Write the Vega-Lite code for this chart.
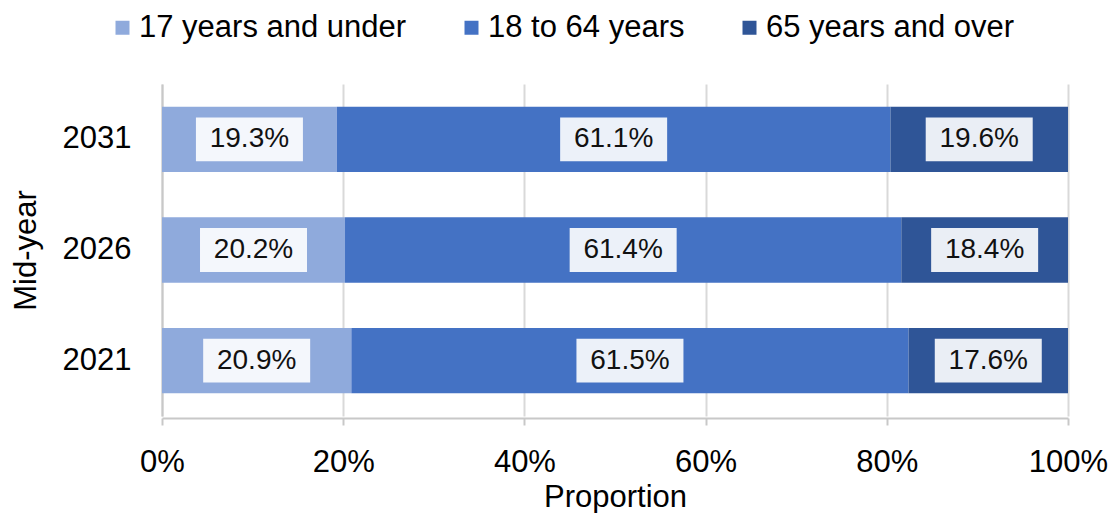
{
  "$schema": "https://vega.github.io/schema/vega-lite/v6.json",
  "autosize": {"type": "none"},
  "padding": {"left": 162, "top": 84, "right": 43, "bottom": 97},
  "width": 906,
  "height": 332,
  "background": "white",
  "config": {
    "view": {"stroke": null},
    "font": "Liberation Sans",
    "axis": {
      "labelFont": "Liberation Sans",
      "titleFont": "Liberation Sans",
      "labelColor": "#000000",
      "titleColor": "#000000",
      "titleFontWeight": "normal",
      "labelFontSize": 31,
      "titleFontSize": 31
    },
    "legend": {
      "labelFont": "Liberation Sans",
      "labelFontSize": 31,
      "labelColor": "#000000"
    }
  },
  "data": {
    "values": [
      {"year": "2031", "group": "17 years and under", "share": 0.193},
      {"year": "2031", "group": "18 to 64 years", "share": 0.611},
      {"year": "2031", "group": "65 years and over", "share": 0.196},
      {"year": "2026", "group": "17 years and under", "share": 0.202},
      {"year": "2026", "group": "18 to 64 years", "share": 0.614},
      {"year": "2026", "group": "65 years and over", "share": 0.184},
      {"year": "2021", "group": "17 years and under", "share": 0.209},
      {"year": "2021", "group": "18 to 64 years", "share": 0.615},
      {"year": "2021", "group": "65 years and over", "share": 0.176}
    ]
  },
  "encoding": {
    "y": {
      "field": "year",
      "type": "nominal",
      "sort": "descending",
      "scale": {"paddingInner": 0.41, "paddingOuter": 0.205},
      "axis": {
        "title": "Mid-year",
        "ticks": false,
        "tickSize": 0,
        "labelPadding": 31,
        "titlePadding": 20,
        "domainColor": "#c8c8c8",
        "domainWidth": 2,
        "grid": false
      }
    },
    "order": {"field": "group", "type": "nominal", "sort": "ascending"}
  },
  "layer": [
    {
      "mark": {"type": "bar"},
      "encoding": {
        "x": {
          "field": "share",
          "type": "quantitative",
          "stack": "zero",
          "scale": {"domain": [0, 1]},
          "axis": {
            "title": "Proportion",
            "format": "%",
            "values": [0, 0.2, 0.4, 0.6, 0.8, 1],
            "labelFlush": false,
            "grid": true,
            "gridColor": "#d9d9d9",
            "gridWidth": 2,
            "domainColor": "#c8c8c8",
            "domainWidth": 2,
            "tickColor": "#c8c8c8",
            "tickWidth": 2,
            "tickSize": 7,
            "offset": 2,
            "labelPadding": 22,
            "titlePadding": 5
          }
        },
        "color": {
          "field": "group",
          "type": "nominal",
          "scale": {
            "domain": ["17 years and under", "18 to 64 years", "65 years and over"],
            "range": ["#8FAADC", "#4472C4", "#2F5597"]
          },
          "legend": {
            "title": null,
            "orient": "none",
            "direction": "horizontal",
            "legendX": -55,
            "legendY": -72,
            "symbolType": "square",
            "symbolSize": 196,
            "symbolStrokeWidth": 0,
            "labelOffset": 1,
            "columnPadding": 49,
            "labelLimit": 0
          }
        }
      }
    },
    {
      "mark": {
        "type": "point",
        "shape": "M-1,-0.41H1V0.41H-1Z",
        "size": 11449,
        "filled": true,
        "fill": "white",
        "fillOpacity": 0.9,
        "opacity": 1,
        "strokeWidth": 0
      },
      "encoding": {
        "x": {"field": "share", "type": "quantitative", "stack": "zero", "bandPosition": 0.5},
        "detail": {"field": "group", "type": "nominal"}
      }
    },
    {
      "mark": {
        "type": "text",
        "font": "Liberation Sans",
        "fontSize": 28,
        "color": "#111111",
        "baseline": "middle",
        "align": "center"
      },
      "encoding": {
        "x": {"field": "share", "type": "quantitative", "stack": "zero", "bandPosition": 0.5},
        "detail": {"field": "group", "type": "nominal"},
        "text": {"field": "share", "type": "quantitative", "format": ".1%"}
      }
    }
  ]
}
